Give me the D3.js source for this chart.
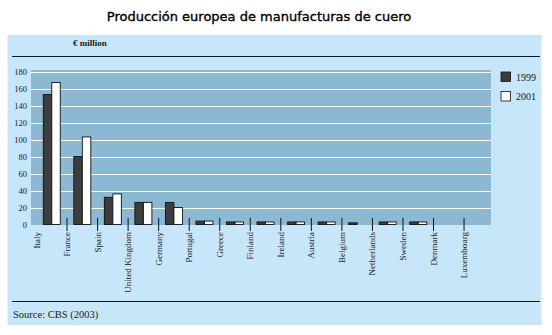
<!DOCTYPE html>
<html><head><meta charset="utf-8">
<script src="https://cdn.jsdelivr.net/npm/d3@7/dist/d3.min.js"></script>
<style>body{margin:0;background:#fff}svg{display:block}.serif{font-family:"Liberation Serif","Times New Roman",Times,serif}</style>
</head><body>
<script>
const countries = ["Italy","France","Spain","United Kingdom","Germany","Portugal","Greece","Finland","Ireland","Austria","Belgium","Netherlands","Sweden","Denmark","Luxembourg"];
const values1999 = [153, 80, 32, 26, 26, 4, 3, 3, 3, 3, 2, 3, 3, 0, 0];
const values2001 = [167, 103, 36, 26, 20, 4, 3, 3, 3, 3, 0, 3, 3, 0, 0];
const seriesNames = ["1999", "2001"];
const yTicks = [0,20,40,60,80,100,120,140,160,180];
const title = "Producción europea de manufacturas de cuero";
const unitLabel = "€ million";
const sourceText = "Source: CBS (2003)";

const W = 552, H = 335;
const svg = d3.select("body").append("svg").attr("width", W).attr("height", H);

svg.append("text").attr("x", 259).attr("y", 21).attr("text-anchor", "middle")
  .style("font-family", "DejaVu Sans").style("font-size", "13px")
  .attr("fill", "#000").attr("stroke", "#000").attr("stroke-width", 0.35)
  .text(title);

// outer panel
svg.append("rect").attr("x", 7.5).attr("y", 35).attr("width", 534).attr("height", 290).attr("fill", "#c7e6f9");
svg.append("line").attr("x1", 12).attr("x2", 540).attr("y1", 56.5).attr("y2", 56.5).attr("stroke", "#0a1a2a").attr("stroke-width", 1.2);
svg.append("line").attr("x1", 12).attr("x2", 540).attr("y1", 301.5).attr("y2", 301.5).attr("stroke", "#0a1a2a").attr("stroke-width", 1.2);

svg.append("text").attr("class", "serif").attr("x", 73).attr("y", 46).style("font-size", "9px").style("font-weight", "bold")
  .attr("fill", "#1a1a1a").text(unitLabel);
svg.append("text").attr("class", "serif").attr("x", 13).attr("y", 318).style("font-size", "10.5px")
  .attr("fill", "#1a1a1a").text(sourceText);

const y = d3.scaleLinear().domain([0, 180]).range([224.5, 71.5]);
const x = d3.scaleBand().domain(countries.concat([""])).range([36.5, 36.5 + 16 * 30.54]).paddingInner(0).paddingOuter(0);
const barW = 8.5;

// plot area
svg.append("rect").attr("x", 31).attr("y", 70).attr("width", 460).attr("height", 155).attr("fill", "#8db8d1");

// gridlines
svg.append("g").selectAll("line").data(yTicks.filter(d => d > 0)).join("line")
  .attr("x1", 31).attr("x2", 491).attr("y1", d => Math.round(y(d)) + 0.5).attr("y2", d => Math.round(y(d)) + 0.5)
  .attr("stroke", "#ffffff").attr("stroke-width", 1);

// y axis labels
const yAxis = d3.axisLeft(y).tickValues(yTicks).tickSize(0).tickPadding(0);
const gy = svg.append("g").attr("transform", "translate(27,0)").call(yAxis);
gy.select(".domain").remove();
gy.attr("font-family", null).attr("font-size", null);
gy.selectAll("text").attr("class", "serif").style("font-size", "8.5px").attr("fill", "#1a1a1a");

// bars
const rows = countries.map((c, i) => ({c, v: [values1999[i], values2001[i]]}));
const fills = ["#3d3d3d", "#ffffff"];
const g = svg.append("g");
rows.forEach(r => {
  r.v.forEach((v, k) => {
    if (v <= 0) return;
    const cx = x(r.c) + x.bandwidth() / 2;
    const x0 = cx - barW + k * barW;
    g.append("rect").attr("x", x0).attr("y", y(v)).attr("width", barW).attr("height", y(0) - y(v))
      .attr("fill", fills[k]).attr("stroke", "#111").attr("stroke-width", 0.9);
  });
});

// x ticks + labels (labels at band start)
const xt = svg.append("g");
countries.forEach((c, i) => {
  const px = x(c);
  if (i > 0) xt.append("line").attr("x1", px).attr("x2", px).attr("y1", 218).attr("y2", 231).attr("stroke", "#111").attr("stroke-width", 1);
  xt.append("text").attr("class", "serif").attr("transform", `translate(${px + 3},232) rotate(-90)`).attr("text-anchor", "end")
    .style("font-size", "9px").attr("fill", "#1a1a1a").text(c);
});

// legend
const lg = svg.append("g");
seriesNames.forEach((s, k) => {
  lg.append("rect").attr("x", 501).attr("y", 72 + k * 19.5).attr("width", 9.5).attr("height", 9.5)
    .attr("fill", fills[k]).attr("stroke", "#111").attr("stroke-width", 0.8);
  lg.append("text").attr("class", "serif").attr("x", 516).attr("y", 80.5 + k * 19.5).style("font-size", "10px")
    .attr("fill", "#1a1a1a").text(s);
});
</script>
</body></html>
